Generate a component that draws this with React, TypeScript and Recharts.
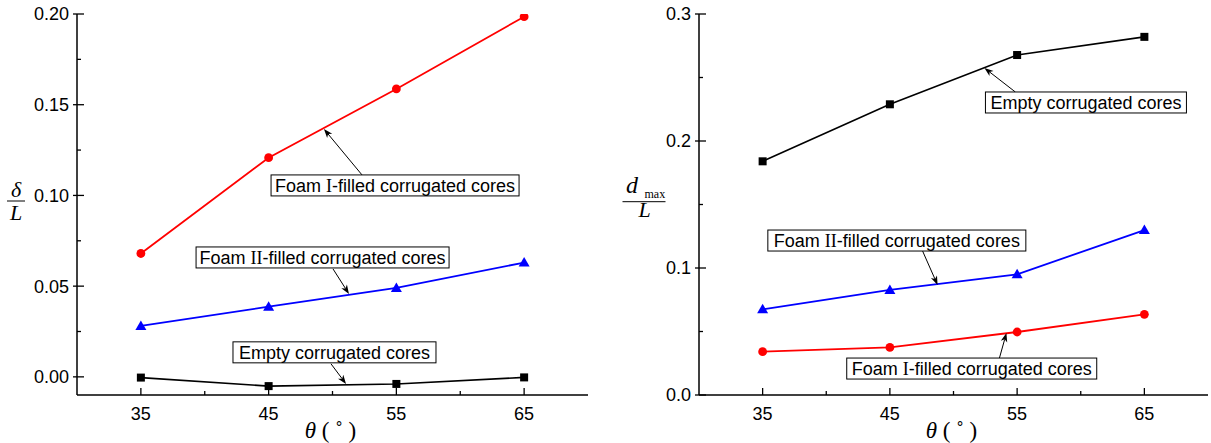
import React from 'react';
import { LineChart, Line, XAxis, YAxis, ReferenceDot, ReferenceLine } from 'recharts';

// ---------- data ----------
const angles = [35, 45, 55, 65];

const deflEmpty = [-0.0004, -0.0051, -0.0039, -0.0003];
const deflFoamI = [0.068, 0.1208, 0.1587, 0.1985];
const deflFoamII = [0.0281, 0.0387, 0.049, 0.063];

const dmaxEmpty = [0.184, 0.2289, 0.2677, 0.282];
const dmaxFoamI = [0.0341, 0.0375, 0.0496, 0.0635];
const dmaxFoamII = [0.0675, 0.0827, 0.095, 0.1299];

const xTicks = [35, 40, 45, 50, 55, 60, 65];
const xMajor = [35, 45, 55, 65];
const leftYTicks = [0, 0.025, 0.05, 0.075, 0.1, 0.125, 0.15, 0.175, 0.2];
const leftYMajorLabels = ['0.00', '0.05', '0.10', '0.15', '0.20'];
const rightYTicks = [0, 0.05, 0.1, 0.15, 0.2, 0.25, 0.3];
const rightYMajorLabels = ['0.0', '0.1', '0.2', '0.3'];

const LABEL_EMPTY = 'Empty corrugated cores';
const LABEL_FOAM1 = 'Foam I-filled corrugated cores';
const LABEL_FOAM2 = 'Foam II-filled corrugated cores';

// annotations (data coordinates): box top-left and arrow from -> to
const leftNotes = [
  { label: LABEL_FOAM1, bx: 45.19, by: 0.1113, w: 248, ax1: 52.31, ay1: 0.1113, ax2: 49.33, ay2: 0.1366 },
  { label: LABEL_FOAM2, bx: 39.32, by: 0.0716, w: 253, ax1: 50.04, ay1: 0.0595, ax2: 51.29, ay2: 0.0457 },
  { label: LABEL_EMPTY, bx: 42.21, by: 0.0193, w: 203, ax1: 49.88, ay1: 0.0072, ax2: 51.06, ay2: -0.0039 },
];
const rightNotes = [
  { label: LABEL_EMPTY, bx: 52.51, by: 0.2386, w: 201, ax1: 54.86, ay1: 0.2386, ax2: 52.43, ay2: 0.2575 },
  { label: LABEL_FOAM2, bx: 35.41, by: 0.1299, w: 258, ax1: 47.57, ay1: 0.1134, ax2: 48.75, ay2: 0.0866 },
  { label: LABEL_FOAM1, bx: 41.61, by: 0.0291, w: 250, ax1: 53.61, ay1: 0.0291, ax2: 54.16, ay2: 0.0488 },
];

const leftData = angles.map((a, i) => ({ angle: a, empty: deflEmpty[i], foam1: deflFoamI[i], foam2: deflFoamII[i] }));
const rightData = angles.map((a, i) => ({ angle: a, empty: dmaxEmpty[i], foam1: dmaxFoamI[i], foam2: dmaxFoamII[i] }));

// ---------- styles ----------
const SANS = 'Arial, "Liberation Sans", sans-serif';
const SERIF = '"Times New Roman", "Liberation Serif", serif';
const TICK_FS = 18;
const MAJOR = 7;
const MINOR = 4;
const AXIS_W = 1.5;

const isMajorX = (v: number) => xMajor.some((m) => Math.abs(m - v) < 1e-9);

const BottomTick = (props: any) => {
  const { x, y, payload } = props;
  const axisY = y - 12;
  const major = isMajorX(payload.value);
  return (
    <g>
      <line x1={x} x2={x} y1={axisY} y2={axisY - (major ? MAJOR : MINOR)} stroke="#000" strokeWidth={1.3} />
      {major && (
        <text x={x} y={y} dy="0.71em" textAnchor="middle" fontFamily={SANS} fontSize={TICK_FS} fill="#000">
          {payload.value}
        </text>
      )}
    </g>
  );
};

const TopTick = (props: any) => {
  const { x, y, payload } = props;
  const major = isMajorX(payload.value);
  return <line x1={x} x2={x} y1={y} y2={y + (major ? MAJOR : MINOR)} stroke="#000" strokeWidth={1.3} />;
};

const makeLeftTick = (labels: string[]) => (props: any) => {
  const { x, y, index } = props;
  const axisX = x + 8;
  const major = index % 2 === 0;
  return (
    <g>
      <line x1={axisX - (major ? 4 : 0)} x2={axisX + (major ? MAJOR : MINOR)} y1={y} y2={y} stroke="#000" strokeWidth={1.3} />
      {major && (
        <text x={x} y={y} dy="0.355em" textAnchor="end" fontFamily={SANS} fontSize={TICK_FS} fill="#000">
          {labels[index / 2]}
        </text>
      )}
    </g>
  );
};

const RightTick = (props: any) => {
  const { x, y, index } = props;
  const major = index % 2 === 0;
  return <line x1={x} x2={x - (major ? MAJOR : MINOR)} y1={y} y2={y} stroke="#000" strokeWidth={1.3} />;
};

const Square = (props: any) => {
  const { cx, cy, key } = props;
  if (cx == null || cy == null) return <g key={key} />;
  return <rect key={key} x={cx - 4} y={cy - 4} width={8} height={8} fill="#000" />;
};
const Circle = (props: any) => {
  const { cx, cy, key } = props;
  if (cx == null || cy == null) return <g key={key} />;
  return <circle key={key} cx={cx} cy={cy} r={4.4} fill="#ff0000" />;
};
const Triangle = (props: any) => {
  const { cx, cy, key } = props;
  if (cx == null || cy == null) return <g key={key} />;
  return <polygon key={key} points={`${cx},${cy - 5.5} ${cx + 5.5},${cy + 4} ${cx - 5.5},${cy + 4}`} fill="#0000ff" />;
};

const NoteText = ({ label }: { label: string }) => {
  const m = label.match(/^(Foam )(I+)(-.*)$/);
  if (!m) return <>{label}</>;
  return (
    <>
      {m[1]}
      <tspan fontFamily={SERIF}>{m[2]}</tspan>
      {m[3]}
    </>
  );
};

const makeBox = (label: string, w: number) => (props: any) => {
  const { cx, cy } = props;
  if (cx == null || cy == null) return <g />;
  const h = 21;
  return (
    <g>
      <rect x={cx} y={cy} width={w} height={h} fill="#fff" stroke="#000" strokeWidth={1} />
      <text x={cx + w / 2} y={cy + h / 2} dy="0.36em" textAnchor="middle" fontFamily={SANS} fontSize={18} fill="#000">
        <NoteText label={label} />
      </text>
    </g>
  );
};

const Arrow = (props: any) => {
  const { x1, y1, x2, y2 } = props;
  if ([x1, y1, x2, y2].some((v) => v == null || isNaN(v))) return <g />;
  const dx = x2 - x1;
  const dy = y2 - y1;
  const len = Math.hypot(dx, dy) || 1;
  const ux = dx / len;
  const uy = dy / len;
  const L = 9;
  const W = 3.3;
  const bx = x2 - ux * L;
  const by = y2 - uy * L;
  const nx = -uy;
  const ny = ux;
  const inx = x2 - ux * L * 0.72;
  const iny = y2 - uy * L * 0.72;
  return (
    <g>
      <line x1={x1} y1={y1} x2={inx} y2={iny} stroke="#000" strokeWidth={1} />
      <polygon
        points={`${x2},${y2} ${bx + nx * W},${by + ny * W} ${inx},${iny} ${bx - nx * W},${by - ny * W}`}
        fill="#000"
      />
    </g>
  );
};

const XLabel = (props: any) => {
  const vb = props.viewBox || {};
  const cx = vb.x + vb.width / 2;
  return (
    <text x={cx - 2} y={vb.y + 43} textAnchor="middle" fontFamily={SERIF} fontSize={23} fill="#000">
      <tspan fontStyle="italic">θ</tspan>
      {' ( ˚ )'}
    </text>
  );
};

const LeftYLabel = (props: any) => {
  const vb = props.viewBox || {};
  const cy = vb.y + vb.height / 2;
  const cx = vb.x + 16;
  return (
    <g fontFamily={SERIF} fill="#000">
      <text x={cx} y={cy - 8} textAnchor="middle" fontSize={22} fontStyle="italic">δ</text>
      <line x1={cx - 9} x2={cx + 9} y1={cy - 3.5} y2={cy - 3.5} stroke="#000" strokeWidth={1} />
      <text x={cx} y={cy + 15} textAnchor="middle" fontSize={22} fontStyle="italic">L</text>
    </g>
  );
};

const RightYLabel = (props: any) => {
  const vb = props.viewBox || {};
  const cy = vb.y + vb.height / 2;
  const cx = vb.x + 33.5;
  return (
    <g fontFamily={SERIF} fill="#000">
      <text x={cx - 18.5} y={cy - 11.5} fontSize={24} fontStyle="italic">d</text>
      <text x={cx} y={cy - 7} fontSize={12}>max</text>
      <line x1={cx - 22} x2={cx + 21} y1={cy - 2.8} y2={cy - 2.8} stroke="#000" strokeWidth={1} />
      <text x={cx} y={cy + 12.5} textAnchor="middle" fontSize={22} fontStyle="italic">L</text>
    </g>
  );
};

const Panel = ({
  data,
  yDomain,
  yTicks,
  yLabels,
  yAxisWidth,
  marginRight,
  notes,
  YLabel,
}: any) => (
  <LineChart
    width={600}
    height={443}
    data={data}
    margin={{ top: 14, right: marginRight, bottom: 18, left: 0 }}
  >
    <XAxis
      dataKey="angle"
      type="number"
      domain={[30, 70]}
      allowDataOverflow
      ticks={xTicks}
      interval={0}
      tickSize={0}
      tickMargin={12}
      height={30}
      axisLine={{ stroke: '#000', strokeWidth: AXIS_W }}
      tickLine={false}
      tick={BottomTick}
      label={XLabel}
    />
    <XAxis
      xAxisId="top"
      orientation="top"
      type="number"
      domain={[30, 70]}
      allowDataOverflow
      ticks={xTicks}
      interval={0}
      tickSize={0}
      tickMargin={0}
      height={0}
      axisLine={{ stroke: '#000', strokeWidth: AXIS_W }}
      tickLine={false}
      tick={TopTick}
    />
    <YAxis
      type="number"
      domain={yDomain}
      allowDataOverflow
      ticks={yTicks}
      interval={0}
      tickSize={0}
      tickMargin={8}
      width={yAxisWidth}
      axisLine={{ stroke: '#000', strokeWidth: AXIS_W }}
      tickLine={false}
      tick={makeLeftTick(yLabels)}
      label={YLabel}
    />
    <YAxis
      yAxisId="right"
      orientation="right"
      type="number"
      domain={yDomain}
      allowDataOverflow
      ticks={yTicks}
      interval={0}
      tickSize={0}
      tickMargin={0}
      width={0}
      axisLine={{ stroke: '#000', strokeWidth: AXIS_W }}
      tickLine={false}
      tick={RightTick}
    />
    <Line dataKey="empty" stroke="#000" strokeWidth={1.6} dot={Square} activeDot={false} isAnimationActive={false} />
    <Line dataKey="foam2" stroke="#0000ff" strokeWidth={1.8} dot={Triangle} activeDot={false} isAnimationActive={false} />
    <Line dataKey="foam1" stroke="#ff0000" strokeWidth={1.8} dot={Circle} activeDot={false} isAnimationActive={false} />
    {notes.map((n: any, i: number) => (
      <ReferenceLine
        key={`a${i}`}
        segment={[
          { x: n.ax1, y: n.ay1 },
          { x: n.ax2, y: n.ay2 },
        ]}
        ifOverflow="visible"
        shape={Arrow}
      />
    ))}
    {notes.map((n: any, i: number) => (
      <ReferenceDot key={`b${i}`} x={n.bx} y={n.by} r={1} ifOverflow="visible" shape={makeBox(n.label, n.w)} />
    ))}
  </LineChart>
);

export default function App() {
  return (
    <div style={{ position: 'absolute', left: 0, top: 0, width: 1211, height: 443, background: '#fff' }}>
      <div style={{ position: 'absolute', left: 0, top: 0 }}>
        <Panel
          data={leftData}
          yDomain={[-0.01, 0.2]}
          yTicks={leftYTicks}
          yLabels={leftYMajorLabels}
          yAxisWidth={77}
          marginRight={12}
          notes={leftNotes}
          YLabel={LeftYLabel}
        />
      </div>
      <div style={{ position: 'absolute', left: 611, top: 0 }}>
        <Panel
          data={rightData}
          yDomain={[0, 0.3]}
          yTicks={rightYTicks}
          yLabels={rightYMajorLabels}
          yAxisWidth={88}
          marginRight={3}
          notes={rightNotes}
          YLabel={RightYLabel}
        />
      </div>
    </div>
  );
}
